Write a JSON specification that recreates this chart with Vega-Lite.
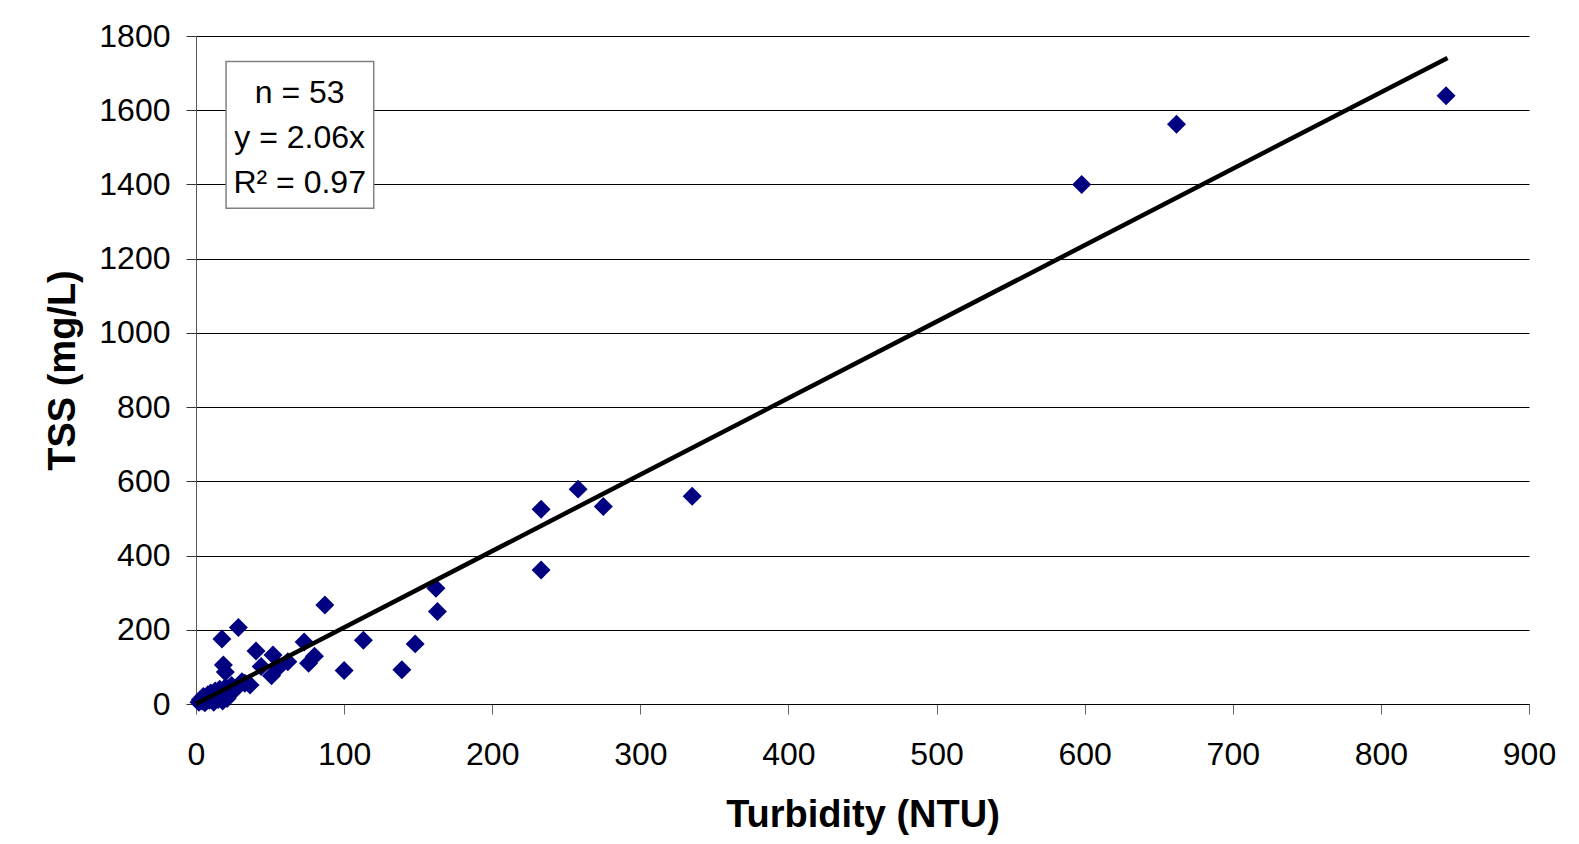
{
  "$schema": "https://vega.github.io/schema/vega-lite/v6.json",
  "width": 1333,
  "height": 668,
  "autosize": "none",
  "padding": {"left": 196, "top": 36, "right": 50, "bottom": 140},
  "background": "white",
  "config": {"view": {"stroke": null}, "font": "Liberation Sans"},
  "datasets": {
    "points": [
      {"turbidity": 598, "tss": 1400},
      {"turbidity": 662, "tss": 1562},
      {"turbidity": 844, "tss": 1639},
      {"turbidity": 233, "tss": 525},
      {"turbidity": 258, "tss": 579},
      {"turbidity": 275, "tss": 532},
      {"turbidity": 335, "tss": 560},
      {"turbidity": 233, "tss": 361},
      {"turbidity": 162, "tss": 312},
      {"turbidity": 163, "tss": 249},
      {"turbidity": 87, "tss": 267},
      {"turbidity": 113, "tss": 172},
      {"turbidity": 148, "tss": 162},
      {"turbidity": 139, "tss": 92},
      {"turbidity": 100, "tss": 90},
      {"turbidity": 73, "tss": 167},
      {"turbidity": 28.6, "tss": 206},
      {"turbidity": 17.5, "tss": 175},
      {"turbidity": 40.5, "tss": 143},
      {"turbidity": 52, "tss": 132},
      {"turbidity": 80, "tss": 129},
      {"turbidity": 76, "tss": 110},
      {"turbidity": 62, "tss": 114},
      {"turbidity": 44, "tss": 101},
      {"turbidity": 51, "tss": 76},
      {"turbidity": 56, "tss": 100},
      {"turbidity": 18.5, "tss": 105},
      {"turbidity": 19.8, "tss": 86},
      {"turbidity": 36.5, "tss": 51},
      {"turbidity": 31, "tss": 60},
      {"turbidity": 2, "tss": 5},
      {"turbidity": 3, "tss": 12},
      {"turbidity": 4, "tss": 8},
      {"turbidity": 5, "tss": 20},
      {"turbidity": 6, "tss": 3},
      {"turbidity": 7, "tss": 15},
      {"turbidity": 8, "tss": 25},
      {"turbidity": 9, "tss": 10},
      {"turbidity": 10, "tss": 30},
      {"turbidity": 11, "tss": 18},
      {"turbidity": 12, "tss": 5},
      {"turbidity": 13, "tss": 35},
      {"turbidity": 14, "tss": 22},
      {"turbidity": 15, "tss": 12},
      {"turbidity": 16, "tss": 40},
      {"turbidity": 17, "tss": 28},
      {"turbidity": 18, "tss": 8},
      {"turbidity": 20, "tss": 45},
      {"turbidity": 21, "tss": 15},
      {"turbidity": 22, "tss": 30},
      {"turbidity": 24, "tss": 50},
      {"turbidity": 26, "tss": 38},
      {"turbidity": 33, "tss": 56}
    ],
    "trend": [
      {"turbidity": 0, "tss": 0},
      {"turbidity": 845, "tss": 1741}
    ],
    "stats": [
      {"label": "n = 53\ny = 2.06x\nR² = 0.97"}
    ]
  },
  "layer": [
    {
      "data": {"name": "points"},
      "mark": {"type": "point", "shape": "diamond", "filled": true, "color": "#000080", "opacity": 1, "size": 360},
      "encoding": {
        "x": {
          "field": "turbidity", "type": "quantitative",
          "scale": {"domain": [0, 900], "nice": false, "zero": true},
          "axis": {
            "title": "Turbidity (NTU)",
            "titleFont": "Liberation Sans", "titleFontWeight": "bold", "titleFontSize": 38, "titleColor": "black",
            "titlePadding": 26,
            "labelFont": "Liberation Sans", "labelFontSize": 32, "labelColor": "black", "labelPadding": 25,
            "format": "d",
            "values": [0, 100, 200, 300, 400, 500, 600, 700, 800, 900],
            "tickSize": 10, "tickColor": "#666666", "domainColor": "black", "grid": false,
            "labelFlush": false, "labelOverlap": false
          }
        },
        "y": {
          "field": "tss", "type": "quantitative",
          "scale": {"domain": [0, 1800], "nice": false, "zero": true},
          "axis": {
            "title": "TSS (mg/L)",
            "titleFont": "Liberation Sans", "titleFontWeight": "bold", "titleFontSize": 38, "titleColor": "black",
            "titlePadding": 16,
            "labelFont": "Liberation Sans", "labelFontSize": 32, "labelColor": "black", "labelPadding": 16,
            "format": "d",
            "values": [0, 200, 400, 600, 800, 1000, 1200, 1400, 1600, 1800],
            "tickSize": 10, "tickColor": "#333333", "domainColor": "#555555",
            "grid": true, "gridColor": "black", "gridWidth": 1, "gridOpacity": 1,
            "labelFlush": false, "labelOverlap": false
          }
        }
      }
    },
    {
      "data": {"name": "trend"},
      "mark": {"type": "line", "color": "black", "strokeWidth": 4.5},
      "encoding": {
        "x": {"field": "turbidity", "type": "quantitative"},
        "y": {"field": "tss", "type": "quantitative"}
      }
    },
    {
      "data": {"name": "stats"},
      "mark": {"type": "rect", "fill": "white", "stroke": "#808080", "strokeWidth": 1.5},
      "encoding": {
        "x": {"datum": 20.3},
        "x2": {"datum": 120},
        "y": {"datum": 1336},
        "y2": {"datum": 1731}
      }
    },
    {
      "data": {"name": "stats"},
      "mark": {"type": "text", "font": "Liberation Sans", "fontSize": 32, "color": "black", "lineBreak": "\n", "lineHeight": 45, "align": "center", "baseline": "top"},
      "encoding": {
        "x": {"datum": 70},
        "y": {"datum": 1688},
        "text": {"field": "label"}
      }
    }
  ]
}
